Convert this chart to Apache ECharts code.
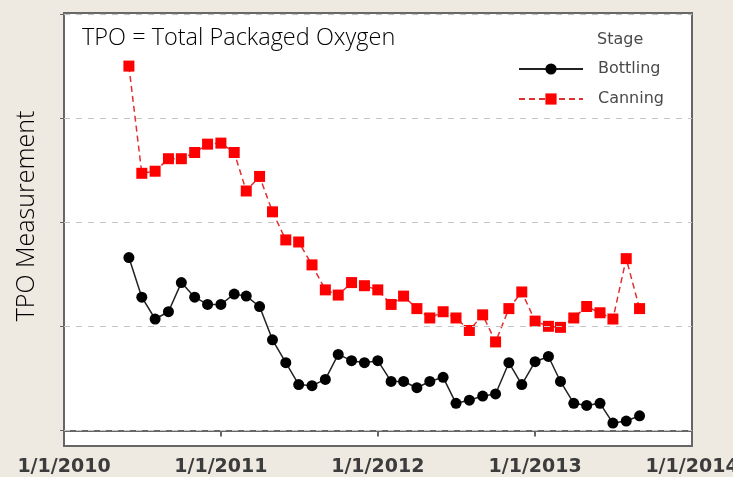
<!DOCTYPE html>
<html><head><meta charset="utf-8">
<script src="https://cdn.jsdelivr.net/npm/echarts@6/dist/echarts.min.js"></script>
<style>html,body{margin:0;padding:0;background:#EEE9E1}#c{width:733px;height:477px}</style>
</head><body><div id="c"></div>
<script>
const months = ['2010-06-01','2010-07-01','2010-08-01','2010-09-01','2010-10-01','2010-11-01','2010-12-01',
'2011-01-01','2011-02-01','2011-03-01','2011-04-01','2011-05-01','2011-06-01','2011-07-01','2011-08-01','2011-09-01','2011-10-01','2011-11-01','2011-12-01',
'2012-01-01','2012-02-01','2012-03-01','2012-04-01','2012-05-01','2012-06-01','2012-07-01','2012-08-01','2012-09-01','2012-10-01','2012-11-01','2012-12-01',
'2013-01-01','2013-02-01','2013-03-01','2013-04-01','2013-05-01','2013-06-01','2013-07-01','2013-08-01','2013-09-01'];
const bottling = [1.66,1.28,1.07,1.14,1.42,1.28,1.21,1.21,1.31,1.29,1.19,0.87,0.65,0.44,0.43,0.49,0.73,0.67,0.65,0.67,
0.47,0.47,0.41,0.47,0.51,0.26,0.29,0.33,0.35,0.65,0.44,0.66,0.71,0.47,0.26,0.24,0.26,0.07,0.09,0.14];
const canning = [3.50,2.47,2.49,2.61,2.61,2.67,2.75,2.76,2.67,2.30,2.44,2.10,1.83,1.81,1.59,1.35,1.30,1.42,1.39,1.35,
1.21,1.29,1.17,1.08,1.14,1.08,0.96,1.11,0.85,1.17,1.33,1.05,1.00,0.99,1.08,1.19,1.13,1.07,1.65,1.17];
const xTicks = ['2010-01-01','2011-01-01','2012-01-01','2013-01-01','2014-01-01'];
const yGrid = [0,1,2,3,4];
const seriesNames = ['Bottling','Canning'];

const ts = d => Date.UTC(+d.slice(0,4), +d.slice(5,7) - 1, +d.slice(8,10));
const chart = echarts.init(document.getElementById('c'));
const xTickVals = xTicks.map(ts);
chart.setOption({
  backgroundColor: '#EEE9E1',
  animation: false,
  grid: {left: 64, right: 41, top: 13, bottom: 31, outerBoundsMode: 'none', containLabel: false,
    show: true, backgroundColor: '#fff', borderColor: '#666', borderWidth: 2},
  xAxis: {
    type: 'value',
    min: xTickVals[0], max: xTickVals[xTickVals.length - 1],
    axisLine: {lineStyle: {color: '#666', width: 2}},
    axisTick: {show: true, length: 6, customValues: xTickVals, lineStyle: {color: '#666', width: 2}},
    axisLabel: {customValues: xTickVals, color: '#3c3c3c', fontFamily: 'DejaVu Sans', fontWeight: 'bold', fontSize: 19, margin: 12,
      formatter: v => { const d = new Date(v); return (d.getUTCMonth()+1) + '/' + d.getUTCDate() + '/' + d.getUTCFullYear(); }},
    splitLine: {show: false}
  },
  yAxis: {
    type: 'value', min: -0.15, max: 4.01,
    axisLine: {show: true, lineStyle: {color: '#666', width: 2}},
    axisTick: {show: true, inside: false, length: 4, customValues: yGrid, lineStyle: {color: '#666'}},
    axisLabel: {show: false},
    splitLine: {show: false}
  },
  legend: {
    orient: 'vertical', left: 518, top: 61, itemWidth: 64, itemHeight: 14, itemGap: 14, padding: 0,
    textStyle: {color: '#4a4a4a', fontFamily: 'DejaVu Sans', fontSize: 16, padding: [0, 0, 0, 10]},
    data: seriesNames
  },
  graphic: [
    {type: 'text', left: 82, top: 26, style: {text: 'TPO = Total Packaged Oxygen', fontFamily: 'Open Sans', fontWeight: 300, fontSize: 23.5, fill: '#000'}},
    {type: 'text', left: 597, top: 32, style: {text: 'Stage', fontFamily: 'DejaVu Sans', fontSize: 16, fill: '#4a4a4a'}},
    {type: 'text', x: 27, y: 216, rotation: Math.PI / 2, style: {text: 'TPO Measurement', fontFamily: 'Open Sans', fontWeight: 300, fontSize: 25, fill: '#000', align: 'center', verticalAlign: 'middle'}}
  ],
  series: [
    {name: seriesNames[0], type: 'line', data: months.map((m, i) => [ts(m), bottling[i]]),
      symbol: 'circle', symbolSize: 11, itemStyle: {color: '#000'}, lineStyle: {color: '#222', width: 1.5},
      markLine: {silent: true, symbol: 'none', label: {show: false}, lineStyle: {type: [6, 6], color: '#c4c4c4', width: 1.2},
        data: yGrid.map(v => ({yAxis: v}))}, z: 3},
    {name: seriesNames[1], type: 'line', data: months.map((m, i) => [ts(m), canning[i]]),
      symbol: 'rect', symbolSize: 11, itemStyle: {color: '#FF0000'}, lineStyle: {color: '#e03030', width: 1.5, type: [6, 4]}, z: 4}
  ]
});
</script></body></html>
